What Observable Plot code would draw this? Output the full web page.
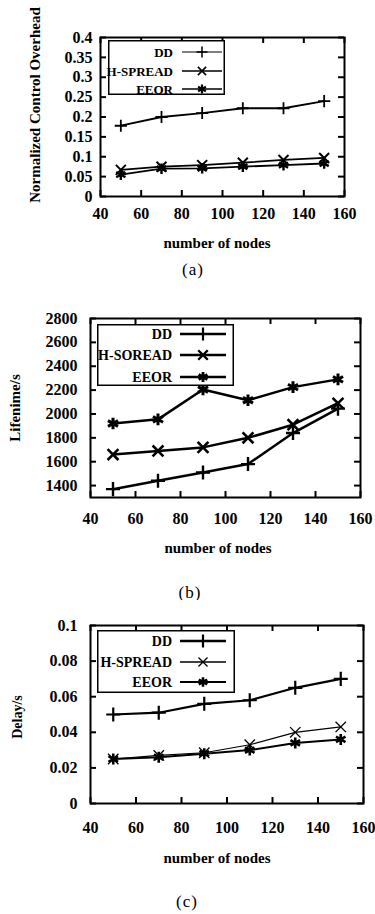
<!DOCTYPE html>
<html>
<head>
<meta charset="utf-8">
<script src="https://cdn.jsdelivr.net/npm/d3@7"></script>
<script src="https://cdn.jsdelivr.net/npm/@observablehq/plot@0.6"></script>
<style>
  html, body { margin: 0; padding: 0; background: white; }
  #root { position: relative; width: 375px; height: 914px; overflow: hidden; background: white; font-family: "Liberation Serif", serif; color: black; }
  .abs { position: absolute; }
  .lbl { position: absolute; white-space: nowrap; font-weight: bold; transform: translate(-50%, -50%); }
  .ylbl { position: absolute; white-space: nowrap; font-weight: bold; transform: translate(-50%, -50%) rotate(-90deg); }
  .cap { position: absolute; white-space: nowrap; transform: translate(-50%, -50%); font-size: 17px; letter-spacing: 1px; }
</style>
</head>
<body>
<div id="root"></div>
<script>
// ---------- data ----------
const nodes = [50, 70, 90, 110, 130, 150];
const xTicks = [40, 60, 80, 100, 120, 140, 160];

const namesA = ["DD", "H-SPREAD", "EEOR"];
const overheadDD = [0.178, 0.2, 0.21, 0.222, 0.222, 0.24];
const overheadHSPREAD = [0.067, 0.075, 0.079, 0.085, 0.092, 0.097];
const overheadEEOR = [0.055, 0.07, 0.071, 0.075, 0.079, 0.083];
const yTicksA = [0, 0.05, 0.1, 0.15, 0.2, 0.25, 0.3, 0.35, 0.4];

const namesB = ["DD", "H-SOREAD", "EEOR"];
const lifetimeDD = [1370, 1440, 1510, 1580, 1840, 2045];
const lifetimeHSPREAD = [1660, 1690, 1720, 1800, 1910, 2090];
const lifetimeEEOR = [1920, 1955, 2205, 2115, 2225, 2290];
const yTicksB = [1400, 1600, 1800, 2000, 2200, 2400, 2600, 2800];

const namesC = ["DD", "H-SPREAD", "EEOR"];
const delayDD = [0.050, 0.051, 0.056, 0.058, 0.065, 0.070];
const delayHSPREAD = [0.025, 0.027, 0.0285, 0.033, 0.040, 0.043];
const delayEEOR = [0.025, 0.026, 0.028, 0.030, 0.034, 0.036];
const yTicksC = [0, 0.02, 0.04, 0.06, 0.08, 0.1];

const symbols = ["plus", "times", "asterisk"];
const d3Symbols = [d3.symbolPlus, d3.symbolTimes, d3.symbolAsterisk];

// ---------- drawing ----------
const root = document.getElementById("root");

function panel(cfg) {
  const {top, height, mt, mb, ml, mr, names, values, yDomain, yTicks, xPad, yPad, lineW, symR, symW} = cfg;
  const W = 375 - ml - mr, H = height - mt - mb;
  const data = names.flatMap((n, i) => nodes.map((x, j) => ({series: n, k: i, x, y: values[i][j]})));
  const marks = [
    Plot.axisX(xTicks, {tickSize: 0, tickPadding: xPad, label: null}),
    Plot.axisY(yTicks, {tickSize: 0, tickPadding: yPad, label: null, tickFormat: d => String(d)}),
    Plot.tickX(xTicks, {x: d => d, insetTop: H - 6, strokeWidth: 2}),
    Plot.tickX(xTicks, {x: d => d, insetBottom: H - 6, strokeWidth: 2}),
    Plot.tickY(yTicks, {y: d => d, insetRight: W - 6, strokeWidth: 2}),
    Plot.tickY(yTicks, {y: d => d, insetLeft: W - 6, strokeWidth: 2})
  ];
  names.forEach((n, i) => {
    const sub = data.filter(d => d.k === i);
    marks.push(Plot.line(sub, {x: "x", y: "y", stroke: "black", strokeWidth: lineW[i]}));
    marks.push(Plot.dot(sub, {x: "x", y: "y", symbol: () => symbols[i], r: symR[i], stroke: "black", strokeWidth: symW[i]}));
  });
  marks.push(Plot.frame({stroke: "black", strokeWidth: 2}));
  const svg = Plot.plot({
    width: 375, height,
    marginTop: mt, marginBottom: mb, marginLeft: ml, marginRight: mr,
    x: {domain: [40, 160]},
    y: {domain: yDomain},
    symbol: {type: "identity"},
    style: "font-family:'Liberation Serif',serif;font-weight:bold;font-size:16px;color:black;background:white;",
    marks
  });
  svg.classList.add("abs");
  svg.style.left = "0px";
  svg.style.top = top + "px";
  root.appendChild(svg);
}

function legend(cfg) {
  const {left, top, w, h, textX, lx1, lx2, rows, names, lineW, symR, symW, fontSize} = cfg;
  const svg = d3.select(root).append("svg")
    .attr("class", "abs")
    .attr("width", w).attr("height", h)
    .style("left", left + "px").style("top", top + "px").style("overflow", "visible");
  svg.append("rect").attr("x", 0.75).attr("y", 0.75).attr("width", w - 1.5).attr("height", h - 1.5)
    .attr("fill", "white").attr("stroke", "black").attr("stroke-width", 1.5);
  names.forEach((n, i) => {
    svg.append("text").attr("x", textX).attr("y", rows[i]).attr("dy", "0.35em")
      .attr("text-anchor", "end").attr("font-family", "'Liberation Serif', serif")
      .attr("font-weight", "bold").attr("font-size", fontSize).text(n);
    svg.append("line").attr("x1", lx1).attr("x2", lx2).attr("y1", rows[i]).attr("y2", rows[i])
      .attr("stroke", "black").attr("stroke-width", lineW[i]);
    const size = Math.PI * symR[i] * symR[i];
    svg.append("path").attr("d", d3.symbol(d3Symbols[i], size)())
      .attr("transform", `translate(${(lx1 + lx2) / 2},${rows[i]})`)
      .attr("fill", "none").attr("stroke", "black").attr("stroke-width", symW[i]);
  });
}

function text(cls, str, cx, cy, size) {
  const d = document.createElement("div");
  d.className = cls;
  d.textContent = str;
  d.style.left = cx + "px";
  d.style.top = cy + "px";
  if (size) d.style.fontSize = size + "px";
  root.appendChild(d);
}

// Panel (a)
panel({top: 0, height: 236, mt: 37, mb: 40, ml: 100, mr: 31,
  names: namesA, values: [overheadDD, overheadHSPREAD, overheadEEOR],
  yDomain: [0, 0.4], yTicks: yTicksA, xPad: 11, yPad: 8,
  lineW: [1.8, 1.8, 1.8], symR: [4, 4.6, 5], symW: [1.8, 2, 2.4]});
legend({left: 108, top: 40, w: 117, h: 55, textX: 65, lx1: 74, lx2: 114, rows: [12, 31, 49],
  names: namesA, lineW: [1.2, 1.4, 1.4], symR: [3.6, 3.8, 4.2], symW: [1.5, 1.6, 2.2], fontSize: 13});
text("ylbl", "Normalized Control Overhead", 35, 105, 15);
text("lbl", "number of nodes", 217, 243, 15);
text("cap", "(a)", 193, 270);

// Panel (b)
panel({top: 290, height: 250, mt: 28, mb: 43, ml: 90, mr: 15,
  names: namesB, values: [lifetimeDD, lifetimeHSPREAD, lifetimeEEOR],
  yDomain: [1300, 2800], yTicks: yTicksB, xPad: 15, yPad: 13,
  lineW: [2.5, 2.5, 2.5], symR: [4.6, 5, 5.5], symW: [2.4, 2.6, 3]});
legend({left: 97, top: 324, w: 137, h: 62, textX: 75, lx1: 83, lx2: 129, rows: [10, 31, 53],
  names: namesB, lineW: [2.5, 2.5, 2.5], symR: [4.2, 4.4, 4.8], symW: [2.2, 2.4, 2.8], fontSize: 14});
text("ylbl", "Lifenime/s", 15, 408, 15);
text("lbl", "number of nodes", 218, 548, 15);
text("cap", "(b)", 190, 593);

// Panel (c)
panel({top: 600, height: 248, mt: 25, mb: 45, ml: 90, mr: 12,
  names: namesC, values: [delayDD, delayHSPREAD, delayEEOR],
  yDomain: [0, 0.1], yTicks: yTicksC, xPad: 18, yPad: 13,
  lineW: [2.2, 1.2, 2], symR: [4.6, 4.8, 5.2], symW: [2.2, 1.3, 2.6]});
legend({left: 97, top: 630, w: 138, h: 63, textX: 75, lx1: 83, lx2: 129, rows: [11, 32, 52],
  names: namesC, lineW: [2.4, 1.4, 2], symR: [4.2, 4.2, 4.6], symW: [2.2, 1.3, 2.6], fontSize: 14});
text("ylbl", "Delay/s", 18, 717, 14);
text("lbl", "number of nodes", 217, 858, 15);
text("cap", "(c)", 187, 902);
</script>
</body>
</html>
